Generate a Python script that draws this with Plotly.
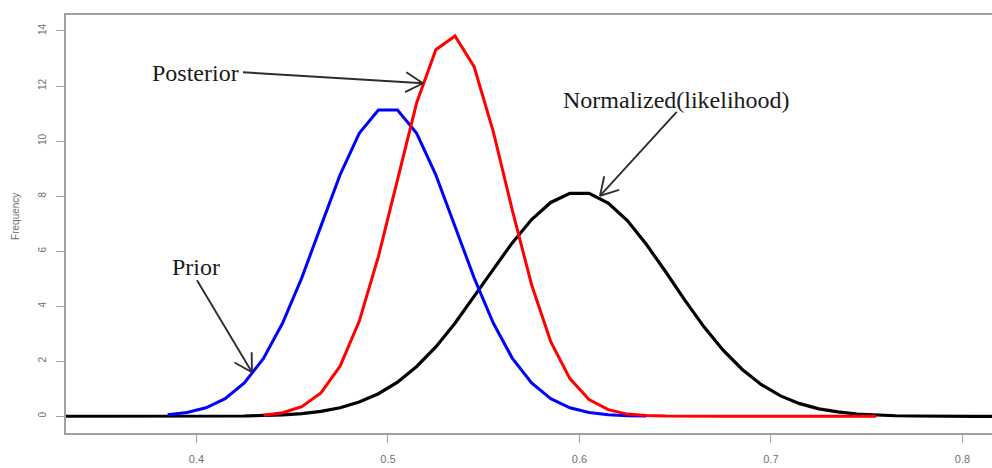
import math
import plotly.graph_objects as go

# Grid of evaluation points (bin centres, step 0.01)
x_likelihood = [round(0.305 + 0.01 * i, 3) for i in range(55)]
y_likelihood = [
    0, 0, 0, 0, 0, 0, 0, 0, 0, 0, 0,
    0.01, 0.01, 0.03, 0.05, 0.10, 0.18, 0.31, 0.52, 0.82, 1.24,
    1.81, 2.52, 3.38, 4.34, 5.34, 6.31, 7.15, 7.77, 8.10, 8.10,
    7.75, 7.11, 6.24, 5.25, 4.22, 3.25, 2.40, 1.70, 1.15, 0.74,
    0.46, 0.27, 0.16, 0.08, 0.04, 0.02, 0.01, 0, 0, 0,
    0, 0, 0, 0,
]

x_prior = [round(0.385 + 0.01 * i, 3) for i in range(26)]
y_prior = [
    0.06, 0.14, 0.31, 0.64, 1.21, 2.10, 3.39, 5.03, 6.91, 8.77,
    10.28, 11.13, 11.13, 10.28, 8.77, 6.91, 5.03, 3.39, 2.10, 1.21,
    0.64, 0.31, 0.14, 0.06, 0.02, 0.01,
]

x_posterior = [round(0.435 + 0.01 * i, 3) for i in range(33)]
y_posterior = [
    0.04, 0.13, 0.35, 0.85, 1.82, 3.45, 5.80, 8.63, 11.39, 13.32,
    13.82, 12.70, 10.34, 7.47, 4.78, 2.71, 1.37, 0.61, 0.24, 0.08,
    0.03, 0.01, 0, 0, 0, 0, 0, 0, 0, 0,
    0, 0, 0,
]

x_ticks = [0.4, 0.5, 0.6, 0.7, 0.8]
y_ticks = [0, 2, 4, 6, 8, 10, 12, 14]

# Labels: (text, text x, text y, arrow tail x, tail y, arrow tip x, tip y)
labels = [
    ("Posterior", 0.3995, 12.47, 0.4243, 12.50, 0.5183, 12.10),
    ("Prior", 0.3997, 5.42, 0.4003, 4.94, 0.4290, 1.60),
    ("Normalized(likelihood)", 0.6508, 11.49, 0.6508, 11.06, 0.6107, 8.01),
]

W, H = 992, 468
ML, MR, MT, MB = 66, 0, 15, 35
X_RANGE = [0.3319, 0.8154]
Y_RANGE = [-0.607, 14.58]
PW, PH = W - ML - MR, H - MT - MB


def to_px(x, y):
    px = ML + (x - X_RANGE[0]) / (X_RANGE[1] - X_RANGE[0]) * PW
    py = MT + (Y_RANGE[1] - y) / (Y_RANGE[1] - Y_RANGE[0]) * PH
    return px, py


def to_data(px, py):
    x = X_RANGE[0] + (px - ML) / PW * (X_RANGE[1] - X_RANGE[0])
    y = Y_RANGE[1] - (py - MT) / PH * (Y_RANGE[1] - Y_RANGE[0])
    return x, y


fig = go.Figure()
fig.add_trace(go.Scatter(x=x_likelihood, y=y_likelihood, mode="lines",
                         line=dict(color="#000000", width=3.2), name="Likelihood"))
fig.add_trace(go.Scatter(x=x_prior, y=y_prior, mode="lines",
                         line=dict(color="#0000ff", width=3), name="Prior"))
fig.add_trace(go.Scatter(x=x_posterior, y=y_posterior, mode="lines",
                         line=dict(color="#ff0000", width=3), name="Posterior"))

shapes = []
annotations = []
arrow_style = dict(color="#2e2e2e", width=1.9)
for text, tx, ty, x0, y0, x1, y1 in labels:
    annotations.append(dict(
        x=tx, y=ty, xref="x", yref="y", text=text, showarrow=False,
        font=dict(family="Liberation Serif, Times New Roman, serif", size=24, color="#1a1a1a"),
        xanchor="center", yanchor="middle",
    ))
    shapes.append(dict(type="line", xref="x", yref="y", x0=x0, y0=y0, x1=x1, y1=y1,
                       line=arrow_style))
    # open V-shaped arrow head at the tip
    p0 = to_px(x0, y0)
    p1 = to_px(x1, y1)
    dx, dy = p0[0] - p1[0], p0[1] - p1[1]
    n = math.hypot(dx, dy)
    ux, uy = dx / n, dy / n
    for ang in (math.radians(30), math.radians(-30)):
        rx = ux * math.cos(ang) - uy * math.sin(ang)
        ry = ux * math.sin(ang) + uy * math.cos(ang)
        ex, ey = to_data(p1[0] + 20 * rx, p1[1] + 20 * ry)
        shapes.append(dict(type="line", xref="x", yref="y", x0=x1, y0=y1, x1=ex, y1=ey,
                           line=arrow_style))

annotations.append(dict(
    x=0, y=0.517, xref="paper", yref="paper", text="Frequency", showarrow=False,
    textangle=-90, xshift=-50, xanchor="center", yanchor="middle",
    font=dict(family="Liberation Sans, Arial, sans-serif", size=10, color="#707070"),
))

fig.update_layout(
    width=W, height=H,
    margin=dict(l=ML, r=MR, t=MT, b=MB, pad=0),
    paper_bgcolor="white", plot_bgcolor="white",
    showlegend=False,
    shapes=shapes, annotations=annotations,
    xaxis=dict(
        range=X_RANGE, tickvals=x_ticks, ticktext=[str(v) for v in x_ticks],
        showgrid=False, zeroline=False,
        showline=True, mirror=True, linecolor="#a0a0a0", linewidth=1.5,
        ticks="outside", ticklen=8, tickcolor="#a0a0a0", tickwidth=1,
        tickfont=dict(family="Liberation Sans, Arial, sans-serif", size=11, color="#707070"),
        ticklabelstandoff=7,
    ),
    yaxis=dict(
        range=Y_RANGE, tickvals=y_ticks, ticktext=[str(v) for v in y_ticks],
        showgrid=False, zeroline=False,
        showline=True, mirror=False, linecolor="#a0a0a0", linewidth=1.5,
        ticks="outside", ticklen=8, tickcolor="#a0a0a0", tickwidth=1,
        tickangle=-90,
        tickfont=dict(family="Liberation Sans, Arial, sans-serif", size=10, color="#707070"),
        ticklabelstandoff=6,
    ),
)

fig.write_html("out.html")
